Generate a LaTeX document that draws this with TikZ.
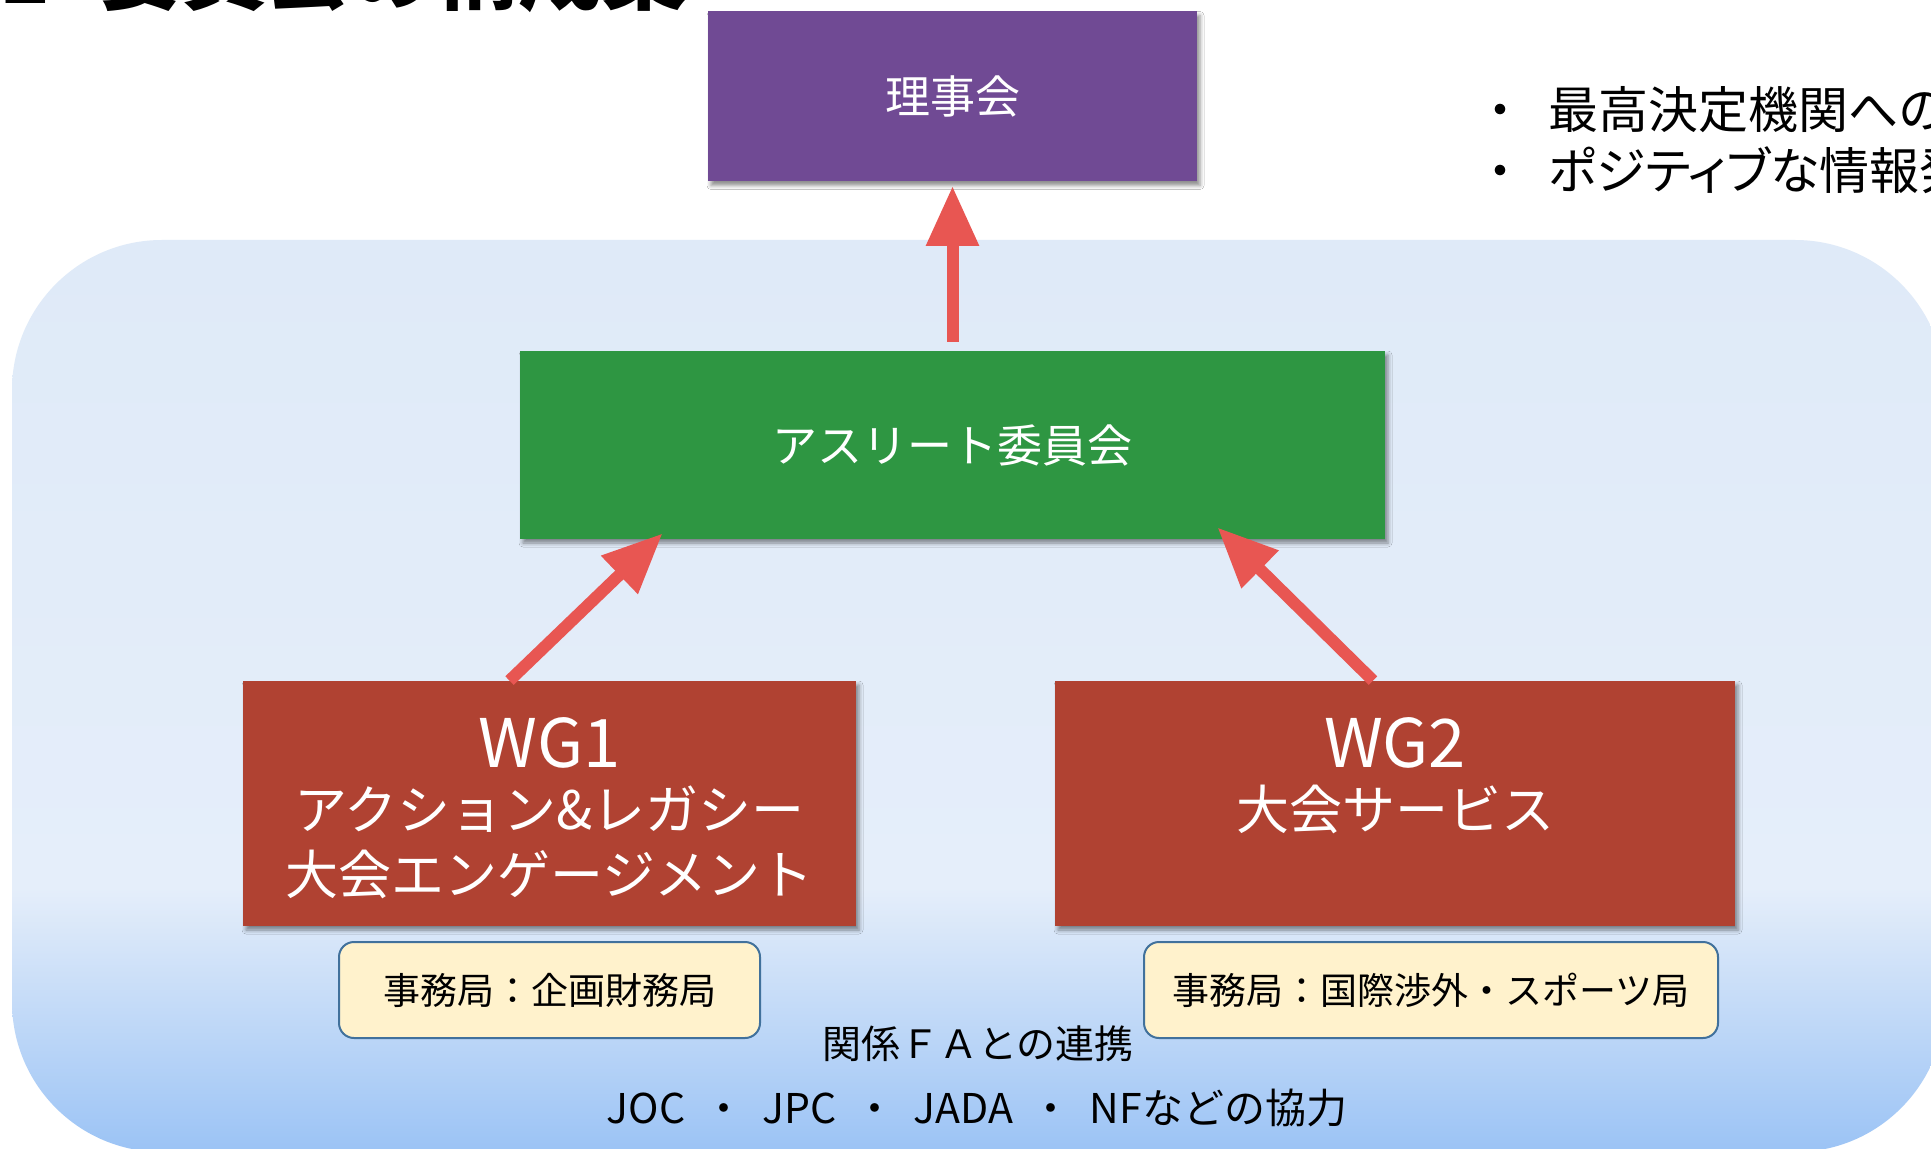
\documentclass[tikz,border=0pt]{standalone}
\usepackage{fontspec}
\setmainfont{Noto Sans CJK JP}
\usetikzlibrary{arrows.meta,shadows.blur,calc}
\definecolor{purplebox}{RGB}{112,74,148}
\definecolor{greenbox}{RGB}{46,150,66}
\definecolor{redbox}{RGB}{176,66,50}
\definecolor{arrowred}{RGB}{232,86,82}
\definecolor{secfill}{RGB}{255,242,204}
\definecolor{secdraw}{RGB}{65,113,156}
\definecolor{bgtop}{RGB}{223,234,248}
\definecolor{bgmid}{RGB}{229,238,250}
\definecolor{bgbot}{RGB}{155,195,245}
\pgfdeclareverticalshading{bgshade}{100bp}{color(0bp)=(bgbot); color(25bp)=(bgbot); color(39.5bp)=(bgmid); color(75bp)=(bgtop); color(100bp)=(bgtop)}
\begin{document}
\begin{tikzpicture}[x=0.5pt,y=-0.5pt,
  box/.style={inner sep=0pt, draw=none, blur shadow={shadow xshift=1.5pt, shadow yshift=-2pt, shadow blur radius=2pt, shadow opacity=45}},
  boxtext/.style={text=white, font=\fontsize{22.5}{26}\selectfont},
  wgtitle/.style={text=white, inner sep=0pt, font=\fontsize{33.5}{40}\selectfont},
  wgsub/.style={text=white, inner sep=0pt, font=\fontsize{26.5}{32}\selectfont},
  secbox/.style={fill=secfill, draw=secdraw, line width=1pt, rounded corners=7.5pt, inner sep=0pt, font=\fontsize{18.5}{22}\selectfont},
  arr/.style={draw=arrowred, line width=6pt, -{Triangle[width=25pt,length=30pt]}},
  plain/.style={inner sep=0pt}
]
\useasboundingbox (0,0) rectangle (1931,1149);
\clip (0,0) rectangle (1931,1149);
\fill[white] (0,0) rectangle (1931,1149);

% cut-off title
\node[plain, anchor=base west, font=\bfseries\fontsize{42}{50}\selectfont] (title) at (-1,4) {1\hspace{24pt}委員会の構成案};

% background panel
\path[shading=bgshade, rounded corners=75pt] (12,240) rectangle (1945,1152);

% right notes
\node[plain, anchor=west, font=\fontsize{25}{30}\selectfont] (note1) at (1475,110) {・\hspace{11.5pt}最高決定機関への};
\node[plain, anchor=west, font=\fontsize{25}{30}\selectfont] (note2) at (1475,170) {・\hspace{11.5pt}{\addfontfeatures{RawFeature=+palt}ポジティブな情報発}};

% boxes
\node[box, fill=purplebox, minimum width=244.5pt, minimum height=85pt, boxtext] (board) at (952.5,96.5) {理事会};
\node[box, fill=greenbox, minimum width=432.5pt, minimum height=94pt, boxtext] (athlete) at (952.5,445) {アスリート委員会};
\node[box, fill=redbox, minimum width=306.5pt, minimum height=122.5pt] (wg1) at (549.5,803.5) {};
\node[box, fill=redbox, minimum width=340pt, minimum height=122.5pt] (wg2) at (1395,803.5) {};

\node[wgtitle] (wg1a) at (549.5,743) {WG1};
\node[wgsub] (wg1b) at (549.5,809) {アクション\&レガシー};
\node[wgsub] (wg1c) at (549.5,874) {大会エンゲージメント};
\node[wgtitle] (wg2a) at (1395,743) {WG2};
\node[wgsub] (wg2b) at (1395,809) {大会サービス};

\node[secbox, minimum width=210.5pt, minimum height=48pt] (sec1) at (549.5,990) {事務局：企画財務局};
\node[secbox, minimum width=287pt, minimum height=48pt] (sec2) at (1431,990) {事務局：国際渉外・スポーツ局};

% bottom texts
\node[plain, font=\fontsize{19.5}{24}\selectfont] (fa) at (978,1044) {関係ＦＡとの連携};
\node[plain, font=\fontsize{20.5}{24}\selectfont] (coop) at (977,1108) {JOC\hspace{9pt}・\hspace{9pt}JPC\hspace{9pt}・\hspace{9pt}JADA\hspace{9pt}・\hspace{9pt}NFなどの協力};

% arrows
\draw[arr] ([yshift=4.5pt]athlete.north) -- ([yshift=-2pt]board.south);
\draw[arr] ([xshift=-20pt]wg1.north) -- ([xshift=71.5pt,yshift=3pt]athlete.south west);
\draw[arr] ([xshift=-11pt]wg2.north) -- ([xshift=-84pt,yshift=6pt]athlete.south east);
\end{tikzpicture}
\end{document}
